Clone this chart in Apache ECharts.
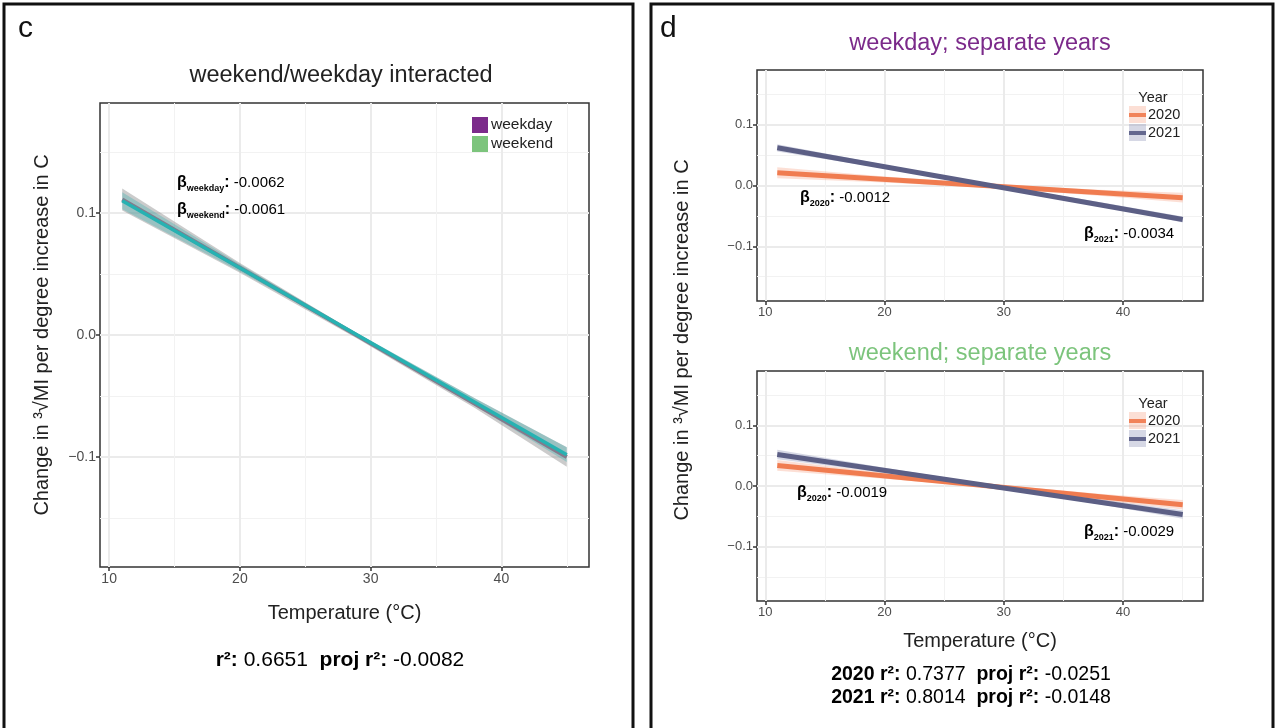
<!DOCTYPE html>
<html>
<head>
<meta charset="utf-8">
<script src="https://cdn.jsdelivr.net/npm/echarts@6/dist/echarts.min.js"></script>
<style>
  html, body { margin: 0; padding: 0; background: #fff; }
  #chart { width: 1277px; height: 728px; }
</style>
</head>
<body>
<div id="chart"></div>
<script>
// ---- data ----
var lineX = [11, 45];               // fitted lines span the temperature range
var bandX = [11, 20, 29, 38, 45];   // x positions where the CI ribbons were read
var xTicks = [10, 20, 30, 40];
var yTicks = [-0.1, 0, 0.1];

// panel c: weekend/weekday interacted
var cWeekdayLine = [0.111, -0.100];
var cWeekendLine = [0.110, -0.098];
var cWeekdayLo = [0.102, 0.051, -0.003, -0.060, -0.108];
var cWeekdayHi = [0.120, 0.059, 0.001, -0.052, -0.092];
var cWeekendLo = [0.103, 0.052, -0.0015, -0.058, -0.104];
var cWeekendHi = [0.117, 0.058, 0.0015, -0.052, -0.092];

// panel d top: weekday, separate years
var wd2020Line = [0.021, -0.020];
var wd2021Line = [0.062, -0.056];
var wd2020Lo = [0.012, 0.005, -0.004, -0.017, -0.028];
var wd2020Hi = [0.030, 0.015, 0.002, -0.007, -0.012];
var wd2021Lo = [0.056, 0.028, -0.002, -0.033, -0.061];
var wd2021Hi = [0.068, 0.034, 0.002, -0.027, -0.051];

// panel d bottom: weekend, separate years
var we2020Line = [0.034, -0.031];
var we2021Line = [0.052, -0.047];
var we2020Lo = [0.025, 0.012, -0.003, -0.023, -0.039];
var we2020Hi = [0.043, 0.022, 0.003, -0.013, -0.023];
var we2021Lo = [0.044, 0.022, -0.002, -0.030, -0.054];
var we2021Hi = [0.060, 0.030, 0.002, -0.022, -0.040];

var xRange = [9.3, 46.7];
var yRange = [-0.19, 0.19];

var FONT = '"Liberation Sans", Arial, sans-serif';
var C_WEEKDAY = '#7b2a8a';
var C_WEEKEND = '#7cc47c';
var C_2020 = '#f07c50';
var C_2021 = '#5c5f85';

function pairs(xs, ys) {
    var out = [];
    for (var i = 0; i < xs.length; i++) out.push([xs[i], ys[i]]);
    return out;
}

function ribbon(name, idx, lo, hi, fill) {
    return {
        type: 'custom', name: name, xAxisIndex: idx, yAxisIndex: idx,
        silent: true, z: 1,
        data: bandX.map(function (x, i) { return [x, lo[i], hi[i]]; }),
        renderItem: function (params, api) {
            if (params.dataIndex !== 0) return;
            var pts = [];
            for (var i = 0; i < bandX.length; i++) pts.push(api.coord([bandX[i], hi[i]]));
            for (var j = bandX.length - 1; j >= 0; j--) pts.push(api.coord([bandX[j], lo[j]]));
            return { type: 'polygon', shape: { points: pts }, style: { fill: fill } };
        }
    };
}

function fitLine(name, idx, ys, color, width) {
    return {
        type: 'line', name: name, xAxisIndex: idx, yAxisIndex: idx,
        data: pairs(lineX, ys), showSymbol: false, silent: true, z: 3,
        lineStyle: { color: color, width: width, cap: 'butt' },
        itemStyle: { color: color }
    };
}

function xAxisOf(idx, fontSize, showName) {
    return {
        type: 'value', gridIndex: idx, min: xRange[0], max: xRange[1],
        axisLine: { show: false, onZero: false },
        axisTick: { show: true, length: 4, customValues: xTicks, lineStyle: { color: '#333', width: 1.5 } },
        axisLabel: { color: '#4d4d4d', fontSize: fontSize, fontFamily: FONT, margin: 5, customValues: xTicks },
        splitLine: { show: true, lineStyle: { color: '#ebebeb', width: 2 } },
        minorTick: { show: false, splitNumber: 2 },
        minorSplitLine: { show: true, lineStyle: { color: '#f2f2f2', width: 1 } },
        name: showName ? 'Temperature (°C)' : '',
        nameLocation: 'middle', nameGap: idx === 0 ? 36 : 30,
        nameTextStyle: { fontSize: 20, color: '#222', fontFamily: FONT }
    };
}

function yAxisOf(idx, fontSize) {
    return {
        type: 'value', gridIndex: idx, min: yRange[0], max: yRange[1],
        axisLine: { show: false, onZero: false },
        axisTick: { show: true, length: 4, customValues: yTicks, lineStyle: { color: '#333', width: 1.5 } },
        axisLabel: {
            color: '#4d4d4d', fontSize: fontSize, fontFamily: FONT, margin: 4, customValues: yTicks,
            formatter: function (v) {
                var s = Math.abs(v).toFixed(1);
                return v < -1e-9 ? '\u2212' + s : s;
            }
        },
        splitLine: { show: true, lineStyle: { color: '#ebebeb', width: 2 } },
        minorTick: { show: false, splitNumber: 2 },
        minorSplitLine: { show: true, lineStyle: { color: '#f2f2f2', width: 1 } }
    };
}

var gridBase = { show: true, backgroundColor: '#fff', borderColor: '#333', borderWidth: 1.5 };

var betaRich = {
    g: { fontSize: 16, fontWeight: 'bold', fontFamily: FONT, color: '#111', lineHeight: 20 },
    s: { fontSize: 9, fontWeight: 'bold', fontFamily: FONT, color: '#111', verticalAlign: 'bottom', lineHeight: 20, padding: [7, 0, 0, 0] },
    v: { fontSize: 15, fontFamily: FONT, color: '#111', lineHeight: 20 }
};
function betaText(x, y, sub, val) {
    return {
        type: 'text', x: x, y: y, z: 10,
        style: { text: '{g|β}{s|' + sub + '}{g|:}{v| ' + val + '}', rich: betaRich, verticalAlign: 'middle' }
    };
}

function statRich(size) {
    return {
        b: { fontWeight: 'bold', fontSize: size, fontFamily: FONT, color: '#111' },
        n: { fontSize: size, fontFamily: FONT, color: '#111' }
    };
}

var YNAME = 'Change in \u00b3\u221aMI per degree increase in C';

var chart = echarts.init(document.getElementById('chart'), null, { renderer: 'canvas' });

var option = {
    animation: false,
    backgroundColor: '#fff',
    textStyle: { fontFamily: FONT },
    title: [
        { text: 'weekend/weekday interacted', left: 336, top: 59, textAlign: 'center',
          textStyle: { fontSize: 23.5, fontWeight: 'normal', color: '#222', fontFamily: FONT } },
        { text: 'weekday; separate years', left: 975, top: 27, textAlign: 'center',
          textStyle: { fontSize: 23.5, fontWeight: 'normal', color: C_WEEKDAY, fontFamily: FONT } },
        { text: 'weekend; separate years', left: 975, top: 337, textAlign: 'center',
          textStyle: { fontSize: 23.5, fontWeight: 'normal', color: C_WEEKEND, fontFamily: FONT } }
    ],
    grid: [
        Object.assign({ left: 100, top: 103, width: 489, height: 464 }, gridBase),
        Object.assign({ left: 757, top: 70, width: 446, height: 231 }, gridBase),
        Object.assign({ left: 757, top: 371, width: 446, height: 230 }, gridBase)
    ],
    xAxis: [xAxisOf(0, 14, true), xAxisOf(1, 13, false), xAxisOf(2, 13, true)],
    yAxis: [
        Object.assign(yAxisOf(0, 14), {
            name: YNAME, nameLocation: 'middle', nameGap: 48, nameRotate: 90,
            nameTextStyle: { fontSize: 20, color: '#222', fontFamily: FONT }
        }),
        yAxisOf(1, 13),
        yAxisOf(2, 13)
    ],
    legend: [
        { left: 472, top: 117, orient: 'vertical', icon: 'rect', itemWidth: 16, itemHeight: 16,
          itemGap: 3, padding: 0, selectedMode: false,
          textStyle: { fontSize: 15.5, color: '#222', fontFamily: FONT, padding: [0, 0, 0, -2] },
          data: [{ name: 'weekday', itemStyle: { color: C_WEEKDAY } },
                 { name: 'weekend', itemStyle: { color: C_WEEKEND } }] },
        { left: 1129, top: 107, orient: 'vertical', icon: 'rect', itemWidth: 17, itemHeight: 4,
          itemGap: 2, padding: 0, selectedMode: false,
          textStyle: { fontSize: 14.5, color: '#222', fontFamily: FONT, padding: [0, 0, 0, -3], lineHeight: 16 },
          data: ['2020', '2021'] },
        { left: 1129, top: 413, orient: 'vertical', icon: 'rect', itemWidth: 17, itemHeight: 4,
          itemGap: 2, padding: 0, selectedMode: false,
          textStyle: { fontSize: 14.5, color: '#222', fontFamily: FONT, padding: [0, 0, 0, -3], lineHeight: 16 },
          data: ['2020', '2021'] }
    ],
    series: [
        ribbon('weekdayCI', 0, cWeekdayLo, cWeekdayHi, 'rgba(140,140,140,0.45)'),
        ribbon('weekendCI', 0, cWeekendLo, cWeekendHi, 'rgba(60,175,175,0.35)'),
        fitLine('weekday', 0, cWeekdayLine, '#857a8c', 4),
        fitLine('weekend', 0, cWeekendLine, '#27b2b2', 3.5),

        ribbon('2020CI', 1, wd2020Lo, wd2020Hi, 'rgba(245,150,115,0.3)'),
        ribbon('2021CI', 1, wd2021Lo, wd2021Hi, 'rgba(120,125,170,0.3)'),
        fitLine('2020', 1, wd2020Line, C_2020, 5),
        fitLine('2021', 1, wd2021Line, C_2021, 5),

        ribbon('2020CI', 2, we2020Lo, we2020Hi, 'rgba(245,150,115,0.3)'),
        ribbon('2021CI', 2, we2021Lo, we2021Hi, 'rgba(120,125,170,0.3)'),
        fitLine('2020', 2, we2020Line, C_2020, 5),
        fitLine('2021', 2, we2021Line, C_2021, 5)
    ],
    graphic: [
        // panel frames
        { type: 'rect', shape: { x: 4, y: 4, width: 629, height: 740 }, z: 0,
          style: { fill: 'none', stroke: '#111', lineWidth: 3 } },
        { type: 'rect', shape: { x: 651, y: 4, width: 622, height: 740 }, z: 0,
          style: { fill: 'none', stroke: '#111', lineWidth: 3 } },
        // panel letters
        { type: 'text', x: 18, y: 14, style: { text: 'c', fontSize: 30, fontFamily: FONT, fill: '#111' } },
        { type: 'text', x: 660, y: 14, style: { text: 'd', fontSize: 30, fontFamily: FONT, fill: '#111' } },
        // legend titles and ribbon swatches for the year keys
        { type: 'text', x: 1153, y: 98, z: 10, style: { text: 'Year', fontSize: 14.5, fontFamily: FONT, fill: '#222', align: 'center', verticalAlign: 'middle' } },
        { type: 'text', x: 1153, y: 404, z: 10, style: { text: 'Year', fontSize: 14.5, fontFamily: FONT, fill: '#222', align: 'center', verticalAlign: 'middle' } },
        { type: 'rect', shape: { x: 1129, y: 106, width: 17, height: 17 }, z: 5, style: { fill: 'rgba(245,150,115,0.3)' } },
        { type: 'rect', shape: { x: 1129, y: 124, width: 17, height: 17 }, z: 5, style: { fill: 'rgba(120,125,170,0.3)' } },
        { type: 'rect', shape: { x: 1129, y: 412, width: 17, height: 17 }, z: 5, style: { fill: 'rgba(245,150,115,0.3)' } },
        { type: 'rect', shape: { x: 1129, y: 430, width: 17, height: 17 }, z: 5, style: { fill: 'rgba(120,125,170,0.3)' } },
        // shared y title for panel d
        { type: 'text', x: 682, y: 340, rotation: Math.PI / 2,
          style: { text: YNAME, fontSize: 20, fontFamily: FONT,
                   fill: '#222', align: 'center', verticalAlign: 'middle' } },
        // slope annotations
        betaText(177, 183, 'weekday', '-0.0062'),
        betaText(177, 210, 'weekend', '-0.0061'),
        betaText(800, 198, '2020', '-0.0012'),
        betaText(1084, 234, '2021', '-0.0034'),
        betaText(797, 493, '2020', '-0.0019'),
        betaText(1084, 532, '2021', '-0.0029'),
        // fit statistics
        { type: 'text', x: 340, y: 660,
          style: { text: '{b|r\u00b2:}{n| 0.6651  }{b|proj r\u00b2:}{n| -0.0082}', rich: statRich(21), align: 'center', verticalAlign: 'middle' } },
        { type: 'text', x: 971, y: 675,
          style: { text: '{b|2020 r\u00b2:}{n| 0.7377  }{b|proj r\u00b2:}{n| -0.0251}', rich: statRich(19.5), align: 'center', verticalAlign: 'middle' } },
        { type: 'text', x: 971, y: 698,
          style: { text: '{b|2021 r\u00b2:}{n| 0.8014  }{b|proj r\u00b2:}{n| -0.0148}', rich: statRich(19.5), align: 'center', verticalAlign: 'middle' } }
    ]
};

chart.setOption(option);
</script>
</body>
</html>
